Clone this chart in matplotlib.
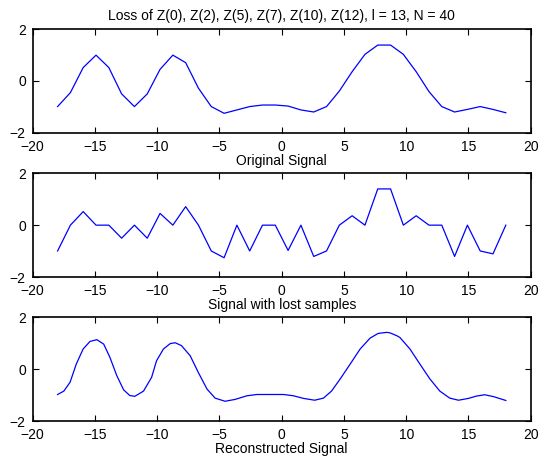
import matplotlib.pyplot as plt
import numpy as np

plt.rcParams['font.family'] = ['Liberation Sans', 'DejaVu Sans']
plt.rcParams['font.size'] = 10

# 36 samples between -18 and 18
n = np.linspace(-18, 18, 36)

original = [-0.99, -0.45, 0.52, 1.00, 0.52, -0.50, -0.99, -0.50, 0.45, 1.00,
            0.71, -0.28, -0.99, -1.25, -1.12, -0.99, -0.93, -0.93, -0.97, -1.12,
            -1.20, -0.99, -0.39, 0.36, 1.03, 1.39, 1.39, 1.03, 0.36, -0.41,
            -0.99, -1.20, -1.10, -0.99, -1.10, -1.23]

lost = [1, 3, 4, 6, 9, 11, 14, 16, 17, 19, 22, 24, 27, 29, 30, 32, 35]
with_loss = [0.0 if i in lost else v for i, v in enumerate(original)]

# reconstructed curve
recon_x = [-18.0, -17.5, -17.0, -16.5, -15.95, -15.4, -14.85, -14.3, -13.8, -13.25,
           -12.7, -12.2, -11.8, -11.1, -10.45, -10.05, -9.5, -8.95, -8.55, -8.05,
           -7.35, -6.7, -6.0, -5.35, -4.55, -3.75, -2.8, -2.0, -0.95, 0.15,
           0.95, 1.75, 2.65, 3.35, 4.0, 4.7, 5.5, 6.3, 7.1, 7.75,
           8.45, 8.7, 9.25, 9.5, 10.3, 11.1, 11.9, 12.7, 13.5, 14.2,
           15.0, 15.65, 16.3, 17.0, 18.0]
recon_y = [-0.98, -0.85, -0.51, 0.19, 0.77, 1.06, 1.13, 0.96, 0.45, -0.25,
           -0.80, -1.02, -1.05, -0.85, -0.32, 0.32, 0.77, 0.98, 1.01, 0.90,
           0.51, -0.13, -0.77, -1.12, -1.24, -1.17, -1.03, -0.98, -0.98, -0.98,
           -1.03, -1.13, -1.20, -1.12, -0.85, -0.38, 0.19, 0.77, 1.19, 1.37,
           1.41, 1.39, 1.28, 1.21, 0.77, 0.19, -0.38, -0.85, -1.12, -1.20,
           -1.13, -1.04, -0.99, -1.06, -1.21]

fig = plt.figure(figsize=(5.58, 4.68), dpi=100)
boxes = [[0.0586, 0.7165, 0.8925, 0.2209],
         [0.0586, 0.4075, 0.8925, 0.2228],
         [0.0586, 0.1004, 0.8925, 0.2222]]
series = [(n, original), (n, with_loss), (recon_x, recon_y)]
labels = ['Original Signal', 'Signal with lost samples', 'Reconstructed Signal']

for box, (xs, ys), lab in zip(boxes, series, labels):
    ax = fig.add_axes(box)
    ax.plot(xs, ys, color='#0000ff', linewidth=0.9)
    ax.set_xlim(-20, 20)
    ax.set_ylim(-2, 2)
    ax.set_xticks(np.arange(-20, 21, 5))
    ax.set_yticks([-2, 0, 2])
    ax.tick_params(direction='in', top=True, right=True, length=4, width=0.8)
    ax.tick_params(axis='x', pad=5)
    ax.tick_params(axis='y', pad=5)
    for s in ax.spines.values():
        s.set_linewidth(1.2)
    ax.set_xlabel(lab, labelpad=0)

fig.axes[0].set_title('Loss of Z(0), Z(2), Z(5), Z(7), Z(10), Z(12), l = 13, N = 40',
                      fontsize=10, pad=7)

fig.savefig('out.png', dpi=100)
